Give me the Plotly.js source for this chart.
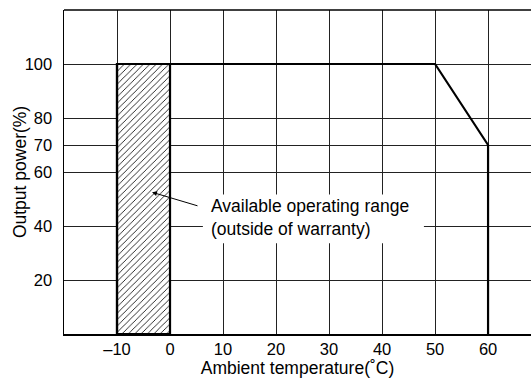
<!DOCTYPE html>
<html>
<head>
<meta charset="utf-8">
<script src="https://cdn.plot.ly/plotly-3.0.1.min.js"></script>
<style>html,body{margin:0;padding:0;background:#fff;}#chart{width:531px;height:380px;}</style>
</head>
<body>
<div id="chart"></div>
<script>
// Derating curve
const curveTemp = [-10, -10, 50, 60, 60];
const curvePower = [0, 100, 100, 70, 0];
// Hatched "available operating range" region
const rangeTemp = [-10, 0, 0, -10, -10];
const rangePower = [0, 0, 100, 100, 0];
// Ticks
const xTickVals = [-10, 0, 10, 20, 30, 40, 50, 60];
const xTickText = ['\u201310', '0', '10', '20', '30', '40', '50', '60'];
const yTickVals = [20, 40, 60, 70, 80, 100];
const yTickText = ['20', '40', '60', '70', '80', '100'];
const noteText = 'Available operating range<br>(outside of warranty)';
const xTitle = 'Ambient temperature(\u02DAC)';
const yTitle = 'Output power(%)';

const fam = 'Liberation Sans, Arial, Helvetica, sans-serif';
const tickFont = {family: fam, size: 16.5, color: '#000'};
const textFont = {family: fam, size: 17.5, color: '#000'};

const traces = [
  {
    x: rangeTemp, y: rangePower, type: 'scatter', mode: 'lines',
    fill: 'toself', fillcolor: 'white',
    fillpattern: {shape: '/', size: 4.5, solidity: 0.18, fgcolor: '#000', bgcolor: '#fff'},
    line: {color: '#000', width: 2.2}, hoverinfo: 'skip'
  },
  {
    x: curveTemp, y: curvePower, type: 'scatter', mode: 'lines',
    line: {color: '#000', width: 2.2}, hoverinfo: 'skip'
  }
];

const layout = {
  width: 531, height: 380,
  margin: {l: 64, r: 0, t: 10, b: 46},
  paper_bgcolor: '#fff', plot_bgcolor: '#fff',
  showlegend: false,
  font: tickFont,
  xaxis: {
    range: [-20, 68.1], tickvals: xTickVals, ticktext: xTickText, tickfont: tickFont,
    showgrid: true, gridcolor: '#222', gridwidth: 1,
    zeroline: false, showline: true, linecolor: '#000', linewidth: 1.5, mirror: false,
    ticks: '', ticklabelstandoff: 0,
    title: {text: xTitle, font: textFont, standoff: 2},
    fixedrange: true
  },
  yaxis: {
    range: [0, 120], tickvals: yTickVals, ticktext: yTickText, tickfont: tickFont,
    showgrid: true, gridcolor: '#222', gridwidth: 1,
    zeroline: false, showline: true, linecolor: '#000', linewidth: 1.5,
    ticks: '', ticklabelstandoff: 7,
    fixedrange: true
  },
  shapes: [
    {type: 'line', xref: 'paper', yref: 'paper', x0: 0, x1: 1, y0: 1, y1: 1, line: {color: '#000', width: 1.5}},
    {type: 'rect', xref: 'x', yref: 'y', x0: 6.2, x1: 47.9, y0: 33.6, y1: 51.7,
     fillcolor: '#fff', line: {width: 0}, layer: 'above'}
  ],
  annotations: [
    {
      x: -0.094, y: 0.5, xref: 'paper', yref: 'paper', text: yTitle, showarrow: false,
      textangle: -90, xanchor: 'center', yanchor: 'middle', font: textFont
    },
    {
      x: 7.3, y: 43.0, xref: 'x', yref: 'y', text: noteText, showarrow: false,
      xanchor: 'left', yanchor: 'middle', align: 'left', font: textFont
    },
    {
      x: -3.4, y: 52.5, xref: 'x', yref: 'y', text: '', showarrow: true,
      ax: 47, ay: 14, arrowhead: 2, arrowsize: 1, arrowwidth: 1, arrowcolor: '#000'
    }
  ]
};

Plotly.newPlot('chart', traces, layout, {staticPlot: true, displayModeBar: false});
</script>
</body>
</html>
